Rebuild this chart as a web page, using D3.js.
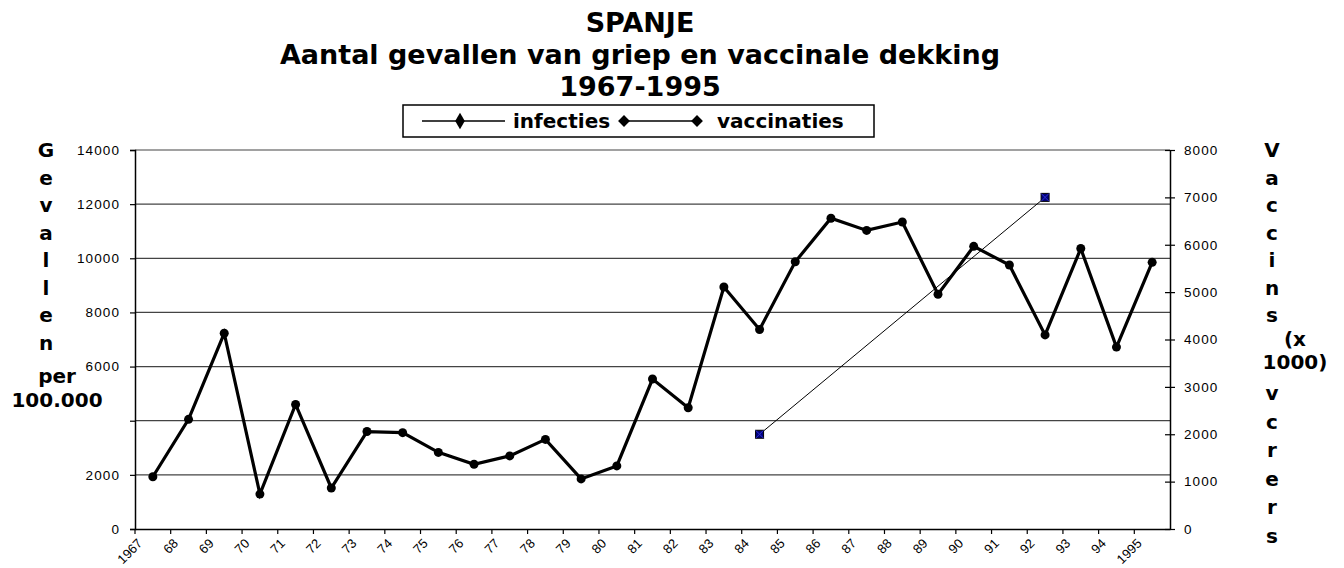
<!DOCTYPE html>
<html>
<head>
<meta charset="utf-8">
<script src="https://cdn.jsdelivr.net/npm/d3@7"></script>
<style>
  body { margin: 0; background: #fff; }
  svg { display: block; }
  .tick text { font-family: "Liberation Sans", Arial, sans-serif; }
</style>
</head>
<body>
<svg width="1344" height="568"></svg>
<script>
// data
const years = [1967, 1968, 1969, 1970, 1971, 1972, 1973, 1974, 1975, 1976,
    1977, 1978, 1979, 1980, 1981, 1982, 1983, 1984, 1985, 1986,
    1987, 1988, 1989, 1990, 1991, 1992, 1993, 1994, 1995];
const yearLabels = ['1967', '68', '69', '70', '71', '72', '73', '74', '75', '76',
    '77', '78', '79', '80', '81', '82', '83', '84', '85', '86',
    '87', '88', '89', '90', '91', '92', '93', '94', '1995'];
const infecties = [1930, 4050, 7230, 1290, 4600, 1515, 3600, 3560, 2830, 2390,
    2700, 3310, 1850, 2330, 5540, 4480, 8940, 7370, 9870, 11480,
    11030, 11340, 8670, 10440, 9750, 7170, 10360, 6720, 9850];
const vaccYears = [1984, 1992];
const vaccinaties = [2000, 7000];
const leftTicks = [0, 2000, 4000, 6000, 8000, 10000, 12000, 14000];
const rightTicks = [0, 1000, 2000, 3000, 4000, 5000, 6000, 7000, 8000];

const titleLines = ['SPANJE', 'Aantal gevallen van griep en vaccinale dekking', '1967-1995'];
const leftTitle = ['G', 'e', 'v', 'a', 'l', 'l', 'e', 'n'];
const rightTitleTop = ['V', 'a', 'c', 'c', 'i', 'n', 's'];
const rightTitleBottom = ['v', 'c', 'r', 'e', 'r', 's'];

const svg = d3.select('svg');

const plotLeft = 135;
const plotRight = 1170;
const plotTop = 150;
const plotBottom = 529;

const x = d3.scaleBand()
    .domain(years)
    .range([plotLeft, plotRight]);

const yLeft = d3.scaleLinear()
    .domain([0, 14000])
    .range([plotBottom, plotTop]);

const yRight = d3.scaleLinear()
    .domain([0, 8000])
    .range([plotBottom, plotTop]);

const boldFont = '"DejaVu Sans", Verdana, sans-serif';

// title
svg.append('g')
    .selectAll('text')
    .data(titleLines)
    .join('text')
    .attr('x', 640)
    .attr('y', (d, i) => 32 + i * 32)
    .attr('text-anchor', 'middle')
    .attr('font-family', boldFont)
    .attr('font-weight', 'bold')
    .attr('font-size', 27)
    .text(d => d);

// gridlines
svg.append('g')
    .selectAll('line')
    .data(leftTicks.slice(1))
    .join('line')
    .attr('x1', plotLeft)
    .attr('x2', plotRight)
    .attr('y1', d => yLeft(d))
    .attr('y2', d => yLeft(d))
    .attr('stroke', '#444')
    .attr('stroke-width', 1.2);

// axes
const leftAxis = svg.append('g')
    .attr('transform', `translate(${plotLeft},0)`)
    .call(d3.axisLeft(yLeft)
        .tickValues(leftTicks)
        .tickSize(5)
        .tickPadding(10)
        .tickFormat(d => d === 4000 ? '' : d));

const rightAxis = svg.append('g')
    .attr('transform', `translate(${plotRight},0)`)
    .call(d3.axisRight(yRight)
        .tickValues(rightTicks)
        .tickSizeInner(5)
        .tickSizeOuter(0)
        .tickPadding(9)
        .tickFormat(d => d));
rightAxis.selectAll('.tick line').attr('x1', -5);

const bottomAxis = svg.append('g')
    .attr('transform', `translate(0,${plotBottom})`)
    .call(d3.axisBottom(x)
        .tickSizeInner(5)
        .tickSizeOuter(0)
        .tickFormat((d, i) => yearLabels[i]));

// ticks sit on the category boundaries
bottomAxis.selectAll('.tick')
    .attr('transform', d => `translate(${x(d)},0)`);
bottomAxis.selectAll('.tick text')
    .attr('text-anchor', 'end')
    .attr('font-size', 13)
    .attr('dy', '0.35em')
    .attr('transform', 'translate(5,12) rotate(-45)')
    .attr('x', 0)
    .attr('y', 0);

[leftAxis, rightAxis].forEach(a => {
    a.selectAll('.tick text')
        .attr('font-size', 13.5)
        .attr('letter-spacing', 1.1)
        .attr('fill', '#000');
});
[leftAxis, rightAxis, bottomAxis].forEach(a => {
    a.select('.domain').attr('stroke', '#000').attr('stroke-width', 1.5);
    a.selectAll('.tick line').attr('stroke', '#000').attr('stroke-width', 1.2);
});

// infecties line
const line = d3.line()
    .x((d, i) => x(years[i]) + x.bandwidth() / 2)
    .y(d => yLeft(d));

svg.append('path')
    .datum(infecties)
    .attr('d', line)
    .attr('fill', 'none')
    .attr('stroke', '#000')
    .attr('stroke-width', 3.2);

svg.append('g')
    .selectAll('circle')
    .data(infecties)
    .join('circle')
    .attr('cx', (d, i) => x(years[i]) + x.bandwidth() / 2)
    .attr('cy', d => yLeft(d))
    .attr('r', 4.5)
    .attr('fill', '#000');

// vaccinaties line
const vaccLine = d3.line()
    .x((d, i) => x(vaccYears[i]) + x.bandwidth() / 2)
    .y(d => yRight(d));

svg.append('path')
    .datum(vaccinaties)
    .attr('d', vaccLine)
    .attr('fill', 'none')
    .attr('stroke', '#000')
    .attr('stroke-width', 1);

const vaccMarks = svg.append('g')
    .selectAll('g')
    .data(vaccinaties)
    .join('g')
    .attr('transform', (d, i) => `translate(${x(vaccYears[i]) + x.bandwidth() / 2},${yRight(d)})`);
vaccMarks.append('rect')
    .attr('x', -4).attr('y', -4)
    .attr('width', 8).attr('height', 8)
    .attr('fill', '#000080')
    .attr('stroke', '#000')
    .attr('stroke-width', 1);
vaccMarks.append('path')
    .attr('d', 'M-4,-4L4,4M-4,4L4,-4')
    .attr('stroke', '#3333cc')
    .attr('stroke-width', 1);

// legend
const legend = svg.append('g');
legend.append('rect')
    .attr('x', 403).attr('y', 105)
    .attr('width', 471).attr('height', 32)
    .attr('fill', '#fff')
    .attr('stroke', '#000')
    .attr('stroke-width', 1.5);
legend.append('line')
    .attr('x1', 422).attr('x2', 505)
    .attr('y1', 121).attr('y2', 121)
    .attr('stroke', '#000').attr('stroke-width', 1.5);
legend.append('path')
    .attr('transform', 'translate(460,121)')
    .attr('d', d3.symbol(d3.symbolDiamond, 80)());
legend.append('line')
    .attr('x1', 624).attr('x2', 697)
    .attr('y1', 121).attr('y2', 121)
    .attr('stroke', '#000').attr('stroke-width', 1.5);
legend.selectAll('.dia')
    .data([624, 697])
    .join('path')
    .attr('transform', d => `translate(${d},121) rotate(45)`)
    .attr('d', d3.symbol(d3.symbolSquare, 70)());
legend.selectAll('text')
    .data([{ t: 'infecties', x: 513 }, { t: 'vaccinaties', x: 717 }])
    .join('text')
    .attr('x', d => d.x)
    .attr('y', 128)
    .attr('font-family', boldFont)
    .attr('font-weight', 'bold')
    .attr('font-size', 20)
    .text(d => d.t);

// stacked axis titles
const axisTitle = (sel, letters, cx, y0, step) => sel.append('g')
    .selectAll('text')
    .data(letters)
    .join('text')
    .attr('x', cx)
    .attr('y', (d, i) => y0 + i * step)
    .attr('text-anchor', 'middle')
    .attr('font-family', boldFont)
    .attr('font-weight', 'bold')
    .attr('font-size', 20)
    .text(d => d);

axisTitle(svg, leftTitle, 46, 157, 27.5);
axisTitle(svg, ['per', '100.000'], 57, 383, 24);
axisTitle(svg, rightTitleTop, 1272, 157, 27.5);
axisTitle(svg, ['(x', '1000)'], 1295, 346, 23);
axisTitle(svg, rightTitleBottom, 1272, 400, 28.5);
</script>
</body>
</html>
